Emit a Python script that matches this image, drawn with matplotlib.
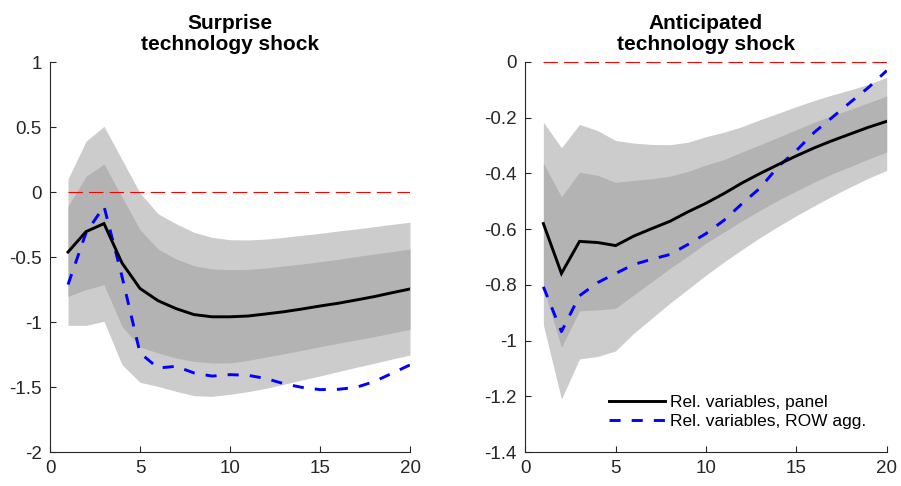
import matplotlib
matplotlib.use("Agg")
import matplotlib.pyplot as plt
from matplotlib.ticker import FuncFormatter

plt.rcParams['font.family'] = ['Liberation Sans', 'DejaVu Sans']
plt.rcParams['axes.unicode_minus'] = False

horizon = list(range(1, 21))

# Surprise technology shock
panel_surprise = [-0.462, -0.305, -0.243, -0.546, -0.742, -0.836, -0.897, -0.943, -0.960, -0.960,
                  -0.954, -0.938, -0.921, -0.900, -0.877, -0.856, -0.831, -0.805, -0.775, -0.746]
row_surprise = [-0.712, -0.315, -0.110, -0.650, -1.238, -1.354, -1.341, -1.392, -1.416, -1.405,
                -1.410, -1.435, -1.475, -1.503, -1.520, -1.518, -1.503, -1.459, -1.395, -1.330]
outer_hi_surprise = [0.100, 0.390, 0.505, 0.249, -0.008, -0.167, -0.244, -0.310, -0.349, -0.367,
                     -0.369, -0.362, -0.349, -0.333, -0.318, -0.300, -0.285, -0.267, -0.249, -0.233]
inner_hi_surprise = [-0.110, 0.120, 0.215, -0.038, -0.290, -0.438, -0.515, -0.567, -0.592, -0.597,
                     -0.595, -0.585, -0.569, -0.554, -0.536, -0.518, -0.497, -0.477, -0.459, -0.438]
inner_lo_surprise = [-0.803, -0.751, -0.713, -1.033, -1.192, -1.238, -1.277, -1.303, -1.315, -1.315,
                     -1.295, -1.269, -1.244, -1.218, -1.190, -1.164, -1.138, -1.113, -1.085, -1.056]
outer_lo_surprise = [-1.026, -1.026, -0.995, -1.328, -1.464, -1.495, -1.533, -1.567, -1.572, -1.556,
                     -1.536, -1.510, -1.479, -1.446, -1.415, -1.382, -1.349, -1.318, -1.285, -1.254]

# Anticipated technology shock
panel_anticipated = [-0.580, -0.759, -0.644, -0.648, -0.659, -0.625, -0.598, -0.572, -0.538, -0.507,
                     -0.472, -0.434, -0.400, -0.368, -0.337, -0.308, -0.282, -0.258, -0.234, -0.213]
row_anticipated = [-0.807, -0.968, -0.839, -0.792, -0.759, -0.727, -0.708, -0.691, -0.655, -0.616,
                   -0.568, -0.508, -0.452, -0.375, -0.318, -0.252, -0.198, -0.144, -0.091, -0.031]
outer_hi_anticipated = [-0.216, -0.308, -0.224, -0.246, -0.282, -0.291, -0.296, -0.297, -0.288, -0.268,
                        -0.252, -0.232, -0.207, -0.184, -0.160, -0.138, -0.118, -0.100, -0.080, -0.055]
inner_hi_anticipated = [-0.363, -0.484, -0.396, -0.407, -0.432, -0.425, -0.419, -0.410, -0.393, -0.370,
                        -0.350, -0.323, -0.297, -0.270, -0.243, -0.216, -0.192, -0.170, -0.146, -0.122]
inner_lo_anticipated = [-0.810, -1.024, -0.893, -0.890, -0.884, -0.836, -0.789, -0.741, -0.697, -0.650,
                        -0.610, -0.570, -0.532, -0.496, -0.463, -0.431, -0.401, -0.375, -0.348, -0.323]
outer_lo_anticipated = [-0.944, -1.210, -1.066, -1.057, -1.037, -0.974, -0.920, -0.866, -0.816, -0.765,
                        -0.718, -0.673, -0.630, -0.590, -0.552, -0.516, -0.481, -0.448, -0.417, -0.389]

titles = ["Surprise\ntechnology shock", "Anticipated\ntechnology shock"]
x_ticks = [0, 5, 10, 15, 20]
y_ticks_surprise = [-2, -1.5, -1, -0.5, 0, 0.5, 1]
y_ticks_anticipated = [-1.4, -1.2, -1, -0.8, -0.6, -0.4, -0.2, 0]
legend_labels = ["Rel. variables, panel", "Rel. variables, ROW agg."]

LIGHT = "#cccccc"
DARK = "#b3b3b3"
AXIS = "#262626"


def fmt(v, _pos):
    s = f"{v:g}"
    return s


fig = plt.figure(figsize=(9.01, 4.86), dpi=100)
ax1 = fig.add_axes([50 / 901, 34 / 486, 360 / 901, 390 / 486])
ax2 = fig.add_axes([525.3 / 901, 34 / 486, 361.4 / 901, 390 / 486])

panels = [
    (ax1, panel_surprise, row_surprise, outer_hi_surprise, inner_hi_surprise,
     inner_lo_surprise, outer_lo_surprise, y_ticks_surprise, (-2, 1), titles[0]),
    (ax2, panel_anticipated, row_anticipated, outer_hi_anticipated, inner_hi_anticipated,
     inner_lo_anticipated, outer_lo_anticipated, y_ticks_anticipated, (-1.4, 0), titles[1]),
]

for ax, mid, row, ohi, ihi, ilo, olo, yt, ylim, title in panels:
    ax.fill_between(horizon, olo, ohi, color=LIGHT, linewidth=0, zorder=1)
    ax.fill_between(horizon, ilo, ihi, color=DARK, linewidth=0, zorder=2)
    ax.plot([horizon[0], horizon[-1]], [0, 0], color="#ff0000", linewidth=0.8,
            dashes=(13, 5.5), zorder=3)
    l1, = ax.plot(horizon, mid, color="black", linewidth=2.1, zorder=5,
                  solid_joinstyle="miter")
    l2, = ax.plot(horizon, row, color="#0000ff", linewidth=2.1, dashes=(3.8, 3.8),
                  zorder=4)
    ax.set_xlim(0, 20)
    ax.set_ylim(*ylim)
    ax.set_xticks(x_ticks)
    ax.set_yticks(yt)
    ax.yaxis.set_major_formatter(FuncFormatter(fmt))
    ax.xaxis.set_major_formatter(FuncFormatter(fmt))
    for side in ("top", "right"):
        ax.spines[side].set_visible(False)
    for side in ("left", "bottom"):
        ax.spines[side].set_color(AXIS)
        ax.spines[side].set_linewidth(0.8)
    ax.tick_params(direction="in", length=4, width=0.8, colors=AXIS,
                   labelsize=13.5, labelcolor=AXIS, pad=6)
    ax.set_title(title, fontsize=15, fontweight="bold", pad=9, linespacing=1.1)

ax2.legend([l1, l2], legend_labels, loc="center left",
           bbox_to_anchor=(0.2316, 0.1026), frameon=False, fontsize=12.5,
           handlelength=3.2, handletextpad=0.3, labelspacing=0.25,
           borderpad=0, borderaxespad=0)

fig.savefig("out.png", dpi=100)
